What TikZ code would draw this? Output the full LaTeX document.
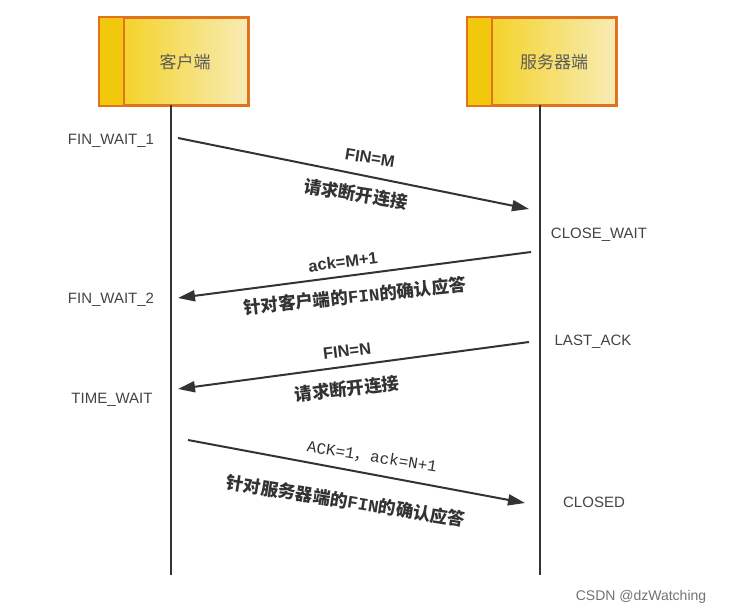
\documentclass[tikz,border=0pt]{standalone}
\usepackage{fontspec}
\setmainfont{Liberation Sans}
\newfontfamily\cjk{Noto Sans CJK SC}
\newfontfamily\monofnt{Liberation Mono}
\usetikzlibrary{arrows.meta}
\definecolor{boxorange}{HTML}{E2731E}
\definecolor{stripyellow}{HTML}{F2C80C}
\definecolor{gradleft}{HTML}{F4CE10}
\definecolor{gradright}{HTML}{F7ECB6}
\definecolor{linegray}{HTML}{333333}
\definecolor{txtgray}{HTML}{444444}
\definecolor{boxtxt}{HTML}{5A5A5A}
\tikzset{
  actor/.style={draw=boxorange, line width=2.2pt, left color=gradleft, right color=gradright, minimum width=148pt, minimum height=87pt, inner sep=0pt},
  lifeline/.style={draw=linegray, line width=2pt},
  msg/.style={draw=linegray, line width=2pt, -{Triangle[length=17pt,width=11pt]}},
  state/.style={text=txtgray, font=\fontsize{15}{18}\selectfont, inner sep=0pt},
  boldlbl/.style={text=linegray, font=\fontsize{16.5}{19}\selectfont\bfseries, inner sep=0pt},
  cjklbl/.style={text=linegray, font=\fontsize{17.5}{20}\selectfont\cjk\bfseries, inner sep=0pt},
  boxlbl/.style={text=boxtxt, font=\fontsize{17}{20}\selectfont\cjk, inner sep=0pt}
}
\begin{document}
\begin{tikzpicture}[x=1pt,y=-1pt]
\useasboundingbox[fill=white] (0,0) rectangle (738,615);
% actor boxes
\node[actor] (client) at (174,61.5) {};
\node[actor] (server) at (542,61.5) {};
\fill[stripyellow] (client.north west) rectangle ([xshift=25pt]client.south west);
\fill[stripyellow] (server.north west) rectangle ([xshift=25pt]server.south west);
\draw[boxorange, line width=2.2pt] (client.north west) rectangle (client.south east);
\draw[boxorange, line width=2.2pt] (server.north west) rectangle (server.south east);
\draw[boxorange, line width=2pt] ([xshift=25pt]client.north west) -- ([xshift=25pt]client.south west);
\draw[boxorange, line width=2pt] ([xshift=25pt]server.north west) -- ([xshift=25pt]server.south west);
\node[boxlbl] (clientlbl) at (185,62) {客户端};
\node[boxlbl] (serverlbl) at (554,62) {服务器端};
% lifelines
\coordinate (ctop) at (171,105);
\coordinate (cbot) at (171,575);
\coordinate (stop) at (540,105);
\coordinate (sbot) at (540,575);
\draw[lifeline] (ctop) -- (cbot);
\draw[lifeline] (stop) -- (sbot);
% message endpoints
\coordinate (m1a) at (178,138);
\coordinate (m1b) at (529,209);
\coordinate (m2a) at (531,252);
\coordinate (m2b) at (178,298);
\coordinate (m3a) at (529,342);
\coordinate (m3b) at (178,389);
\coordinate (m4a) at (188,440);
\coordinate (m4b) at (525,503);
\draw[msg] (m1a) -- (m1b);
\draw[msg] (m2a) -- (m2b);
\draw[msg] (m3a) -- (m3b);
\draw[msg] (m4a) -- (m4b);
% message labels
\node[boldlbl, rotate=-9] (l1a) at (370,158) {FIN=M};
\node[cjklbl, rotate=-9] (l1b) at (356,194) {请求断开连接};
\node[boldlbl, rotate=7] (l2a) at (343,262) {ack=M+1};
\node[cjklbl, rotate=6] (l2b) at (355,296) {针对客户端的{\monofnt FIN}的确认应答};
\node[boldlbl, rotate=7] (l3a) at (347,351) {FIN=N};
\node[cjklbl, rotate=7] (l3b) at (347,389) {请求断开连接};
\node[text=linegray, font=\fontsize{16}{19}\selectfont\monofnt, inner sep=0pt, rotate=-9] (l4a) at (372,457) {ACK=1{\cjk ，}ack=N+1};
\node[cjklbl, rotate=-9] (l4b) at (346,501) {针对服务器端的{\monofnt FIN}的确认应答};
% states
\node[state] (s1) at (111,141) {FIN\_WAIT\_1};
\node[state] (s2) at (111,300) {FIN\_WAIT\_2};
\node[state] (s3) at (112,400) {TIME\_WAIT};
\node[state] (s4) at (599,235) {CLOSE\_WAIT};
\node[state] (s5) at (593,342) {LAST\_ACK};
\node[state] (s6) at (594,502) {CLOSED};
% watermark
\node[text=black!55, font=\fontsize{14}{16}\selectfont, inner sep=0pt] (wm) at (641,597) {CSDN @dzWatching};
\end{tikzpicture}
\end{document}
